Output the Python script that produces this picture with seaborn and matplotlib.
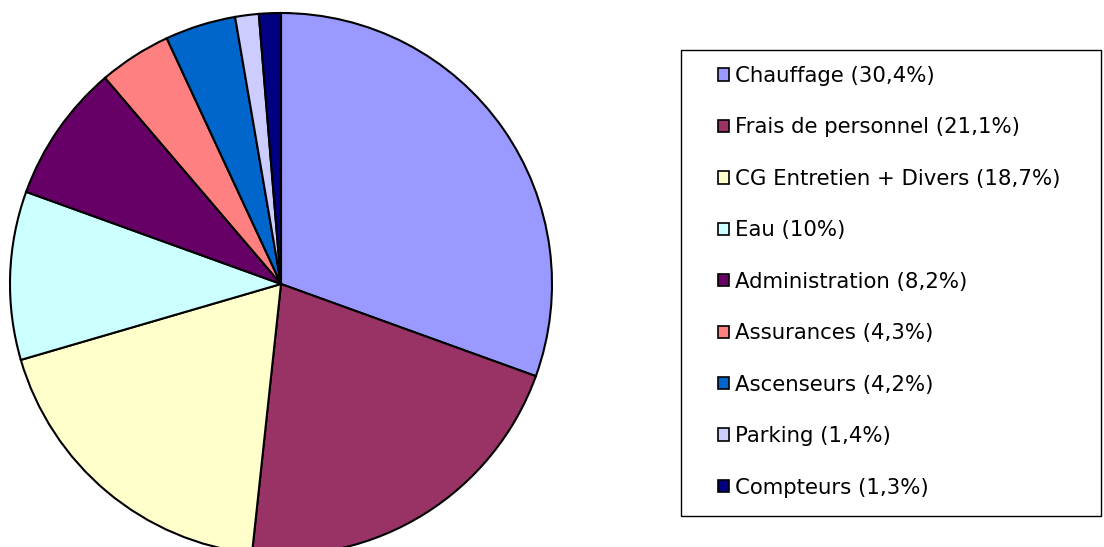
import seaborn as sns
import matplotlib.pyplot as plt
from matplotlib.patches import Rectangle

# Répartition des charges
categories = ['Chauffage', 'Frais de personnel', 'CG Entretien + Divers', 'Eau',
              'Administration', 'Assurances', 'Ascenseurs', 'Parking', 'Compteurs']
parts = [30.4, 21.1, 18.7, 10.0, 8.2, 4.3, 4.2, 1.4, 1.3]
libelles = ['30,4%', '21,1%', '18,7%', '10%', '8,2%', '4,3%', '4,2%', '1,4%', '1,3%']
couleurs = ['#9999FF', '#993366', '#FFFFCC', '#CCFFFF', '#660066',
            '#FF8080', '#0066CC', '#CCCCFF', '#000080']

sns.set_theme(style='white')
plt.rcParams['font.family'] = ['DejaVu Sans']
palette = sns.color_palette(couleurs)

fig = plt.figure(figsize=(11.04, 5.47), dpi=100)
ax = fig.add_axes([0, 0, 1, 1])

wedges, _ = ax.pie(parts, colors=palette, startangle=90, counterclock=False,
                   center=(281, 263), radius=271,
                   wedgeprops={'edgecolor': 'black', 'linewidth': 1.5})
ax.set_xlim(0, 1104)
ax.set_ylim(0, 547)
ax.set_aspect('equal')
ax.axis('off')

# Cadre de la légende
fig.patches.append(Rectangle((681 / 1104, 1 - 516 / 547), 420 / 1104, 466 / 547,
                             transform=fig.transFigure, facecolor='white',
                             edgecolor='black', linewidth=1))

labels = [f'{c} ({l})' for c, l in zip(categories, libelles)]
leg = fig.legend(wedges, labels, loc='upper left',
                 bbox_to_anchor=(718 / 1104, 1 - 66 / 547),
                 frameon=False, fontsize=15.3, labelspacing=1.48,
                 handlelength=0.52, handleheight=0.52, handletextpad=0.28,
                 borderpad=0, borderaxespad=0, labelcolor='black')
for h in leg.legend_handles:
    h.set_linewidth(1.2)

fig.savefig('out.png', dpi=100)
